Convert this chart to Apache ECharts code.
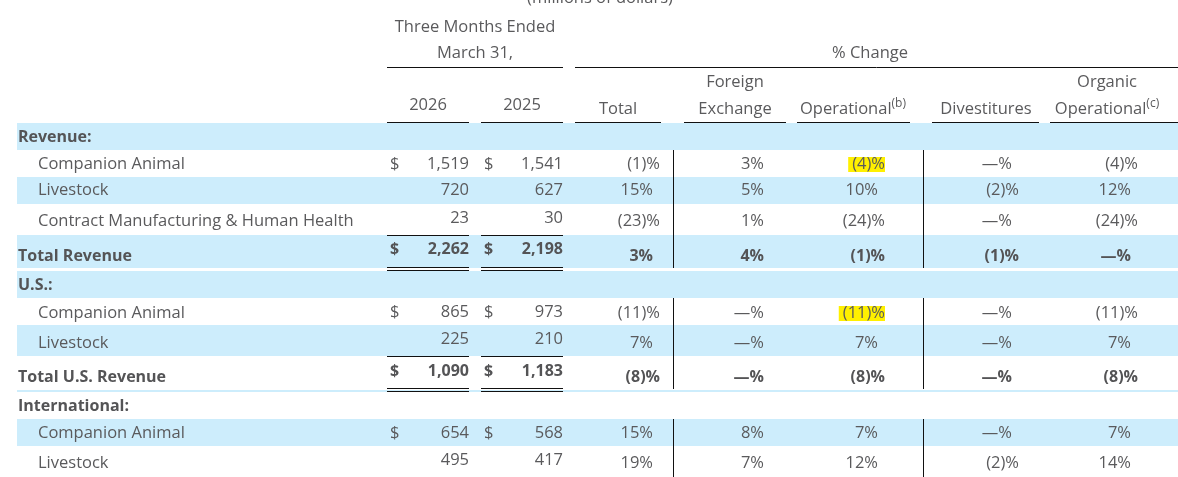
<!DOCTYPE html>
<html>
<head>
<meta charset="utf-8">
<title>Revenue by segment</title>
<script src="https://cdn.jsdelivr.net/npm/echarts@6/dist/echarts.min.js"></script>
<style>
  html, body { margin: 0; padding: 0; background: #fff; }
  #table { width: 1178px; height: 477px; }
</style>
</head>
<body>
<div id="table"></div>
<script>
// millions of dollars, three months ended March 31
var rowLabels = ['Revenue:', 'Companion Animal', 'Livestock', 'Contract Manufacturing & Human Health', 'Total Revenue',
  'U.S.:', 'Companion Animal', 'Livestock', 'Total U.S. Revenue',
  'International:', 'Companion Animal', 'Livestock'];
var rowKinds = ['section', 'item', 'item', 'item', 'total', 'section', 'item', 'item', 'total', 'section', 'item', 'item'];
var dollarRows = [1, 4, 6, 8, 10];
var rev2026 = [null, 1519, 720, 23, 2262, null, 865, 225, 1090, null, 654, 495];
var rev2025 = [null, 1541, 627, 30, 2198, null, 973, 210, 1183, null, 568, 417];
// % change columns
var pctTotal = [null, -1, 15, -23, 3, null, -11, 7, -8, null, 15, 19];
var pctFx = [null, 3, 5, 1, 4, null, 0, 0, 0, null, 8, 7];
var pctOper = [null, -4, 10, -24, -1, null, -11, 7, -8, null, 7, 12];
var pctDivest = [null, 0, -2, 0, -1, null, 0, 0, 0, null, 0, -2];
var pctOrganic = [null, -4, 12, -24, 0, null, -11, 7, -8, null, 7, 14];
var pctCols = [pctTotal, pctFx, pctOper, pctDivest, pctOrganic];

var unitLabel = '(millions of dollars)';
var periodLabels = ['Three Months Ended', 'March 31,'];
var changeLabel = '% Change';
var yearLabels = ['2026', '2025'];
var pctTopLabels = ['', 'Foreign', '', '', 'Organic'];
var pctLabels = ['Total', 'Exchange', 'Operational', 'Divestitures', 'Operational'];
var pctNotes = ['', '', '(b)', '', '(c)'];
var highlights = [[1, 2], [6, 2]]; // [row, % column]

// layout, in pixels of the hidden axes
var W = 1178, H = 477;
var rowY = [137, 164, 190, 221, 256, 285, 313, 343, 377, 406, 433, 463];
var numY = [null, 164, 190, 218, 249, null, 312, 339, 371, null, 433, 460];
var rowTop = [123, 150, 177, 204, 235, 271, 298, 325, 356, 391, 419, 446];
var rowBottom = [150, 177, 204, 235, 268, 298, 325, 356, 389, 419, 446, 477];
var bandRows = [0, 2, 4, 5, 7, 10];
var yearRight = [469, 563], yearDollar = [390, 484], yearCenter = [428, 522];
var yearRule = [[387, 469], [481, 563]];
var pctRight = [660, 771, 885, 1019, 1138], pctCenter = [618, 735, 853, 986, 1107];
var pctRule = [[575, 661], [684, 786], [797, 910], [932, 1039], [1050, 1178]];
var splitX = [673, 923];

var GRAY = '#5a5a5c', DARK = '#545456', BAND = '#cdedfc', MARK = '#fff000', RULE = '#111';
var FONT = '"Open Sans", sans-serif';

function fmtPct(v) {
  if (v === 0) return '\u2014%';
  if (v < 0) return '(' + (-v) + ')%';
  return v + '%';
}

var texts = [], rects = [], rules = [];
function text(x, y, s, align, opt) {
  opt = opt || {};
  texts.push({ x: x, y: y + 0.5, s: s, align: align, bold: !!opt.bold, bg: opt.bg, rich: opt.rich });
}
function rule(x1, y1, x2, y2, color, width) {
  rules.push({ x1: x1, y1: y1, x2: x2, y2: y2, color: color || RULE, width: width || 1 });
}

// header
text(600, -2, unitLabel, 'center');
text(yearCenter[0] + (yearCenter[1] - yearCenter[0]) / 2, 27, periodLabels[0], 'center');
text(yearCenter[0] + (yearCenter[1] - yearCenter[0]) / 2, 53, periodLabels[1], 'center');
text(870, 53, changeLabel, 'center');
rule(yearRule[0][0], 67.5, yearRule[1][1], 67.5);
rule(pctRule[0][0], 67.5, W, 67.5);
yearLabels.forEach(function (s, i) {
  text(yearCenter[i], 105, s, 'center');
  rule(yearRule[i][0], 122.5, yearRule[i][1], 122.5);
});
pctLabels.forEach(function (s, i) {
  if (pctTopLabels[i]) text(pctCenter[i], 82, pctTopLabels[i], 'center');
  text(pctCenter[i], 109, pctNotes[i] ? s + '{s|' + pctNotes[i] + '}' : s, 'center', { rich: !!pctNotes[i] });
  rule(pctRule[i][0], 122.5, pctRule[i][1], 122.5);
});

// bands first
bandRows.forEach(function (r) {
  rects.push({ x1: 17, y1: rowTop[r], x2: W, y2: rowBottom[r], color: BAND });
});

// body
rowLabels.forEach(function (label, r) {
  var kind = rowKinds[r];
  var bold = kind !== 'item';
  text(kind === 'item' ? 38 : 18, rowY[r], label, 'left', { bold: bold });
  if (kind === 'section') return;

  splitX.forEach(function (x) { rule(x + 0.5, rowTop[r], x + 0.5, rowBottom[r]); });

  [rev2026, rev2025].forEach(function (vals, c) {
    if (dollarRows.indexOf(r) >= 0) text(yearDollar[c], numY[r], '$', 'left', { bold: bold });
    text(yearRight[c], numY[r], vals[r].toLocaleString('en-US'), 'right', { bold: bold });
    if (kind === 'total') {
      rule(yearRule[c][0], rowTop[r] + 0.5, yearRule[c][1], rowTop[r] + 0.5);
      rule(yearRule[c][0], rowBottom[r] - 0.5, yearRule[c][1], rowBottom[r] - 0.5);
      rule(yearRule[c][0], rowBottom[r] + 2.5, yearRule[c][1], rowBottom[r] + 2.5);
    }
  });

  pctCols.forEach(function (vals, c) {
    var v = vals[r];
    var hl = highlights.some(function (h) { return h[0] === r && h[1] === c; });
    text(v < 0 ? pctRight[c] : pctRight[c] - 7, rowY[r], fmtPct(v), 'right', { bold: bold, bg: hl ? MARK : null });
  });
});
// thin band rule under the U.S. total
rules.unshift({ x1: 17, y1: 391, x2: W, y2: 391, color: BAND, width: 2 });

function rectItem(params, api) {
  var d = rects[params.dataIndex];
  var a = api.coord([d.x1, d.y1]), b = api.coord([d.x2, d.y2]);
  return { type: 'rect', shape: { x: a[0], y: a[1], width: b[0] - a[0], height: b[1] - a[1] }, style: { fill: d.color } };
}
function ruleItem(params, api) {
  var d = rules[params.dataIndex];
  var a = api.coord([d.x1, d.y1]), b = api.coord([d.x2, d.y2]);
  return { type: 'line', shape: { x1: a[0], y1: a[1], x2: b[0], y2: b[1] }, style: { stroke: d.color, lineWidth: d.width } };
}
function textItem(params, api) {
  var d = texts[params.dataIndex];
  var p = api.coord([d.x, d.y]);
  var style = {
    text: d.s,
    fill: d.bold ? DARK : GRAY,
    fontFamily: FONT,
    fontSize: d.bold ? 16 : 16.5,
    fontWeight: d.bold ? 'bold' : 'normal',
    align: d.align,
    verticalAlign: 'middle'
  };
  if (d.bg) {
    style.backgroundColor = d.bg;
    style.padding = [1, 0, 0, 4];
    style.lineHeight = 14;
  }
  if (d.rich) {
    style.lineHeight = 24;
    style.rich = { s: { fontSize: 12, fontFamily: FONT, fill: GRAY, verticalAlign: 'top', lineHeight: 12 } };
  }
  return { type: 'text', x: p[0], y: p[1], style: style };
}

function idx(arr) { return arr.map(function (d, i) { return [i, i]; }); }

var chart = echarts.init(document.getElementById('table'));
chart.setOption({
  animation: false,
  grid: { left: 0, right: 0, top: 0, bottom: 0 },
  xAxis: { type: 'value', min: 0, max: W, show: false },
  yAxis: { type: 'value', min: 0, max: H, inverse: true, show: false },
  series: [
    { type: 'custom', silent: true, clip: false, renderItem: rectItem, data: idx(rects) },
    { type: 'custom', silent: true, clip: false, renderItem: ruleItem, data: idx(rules) },
    { type: 'custom', silent: true, clip: false, renderItem: textItem, data: idx(texts) }
  ]
});
</script>
</body>
</html>
